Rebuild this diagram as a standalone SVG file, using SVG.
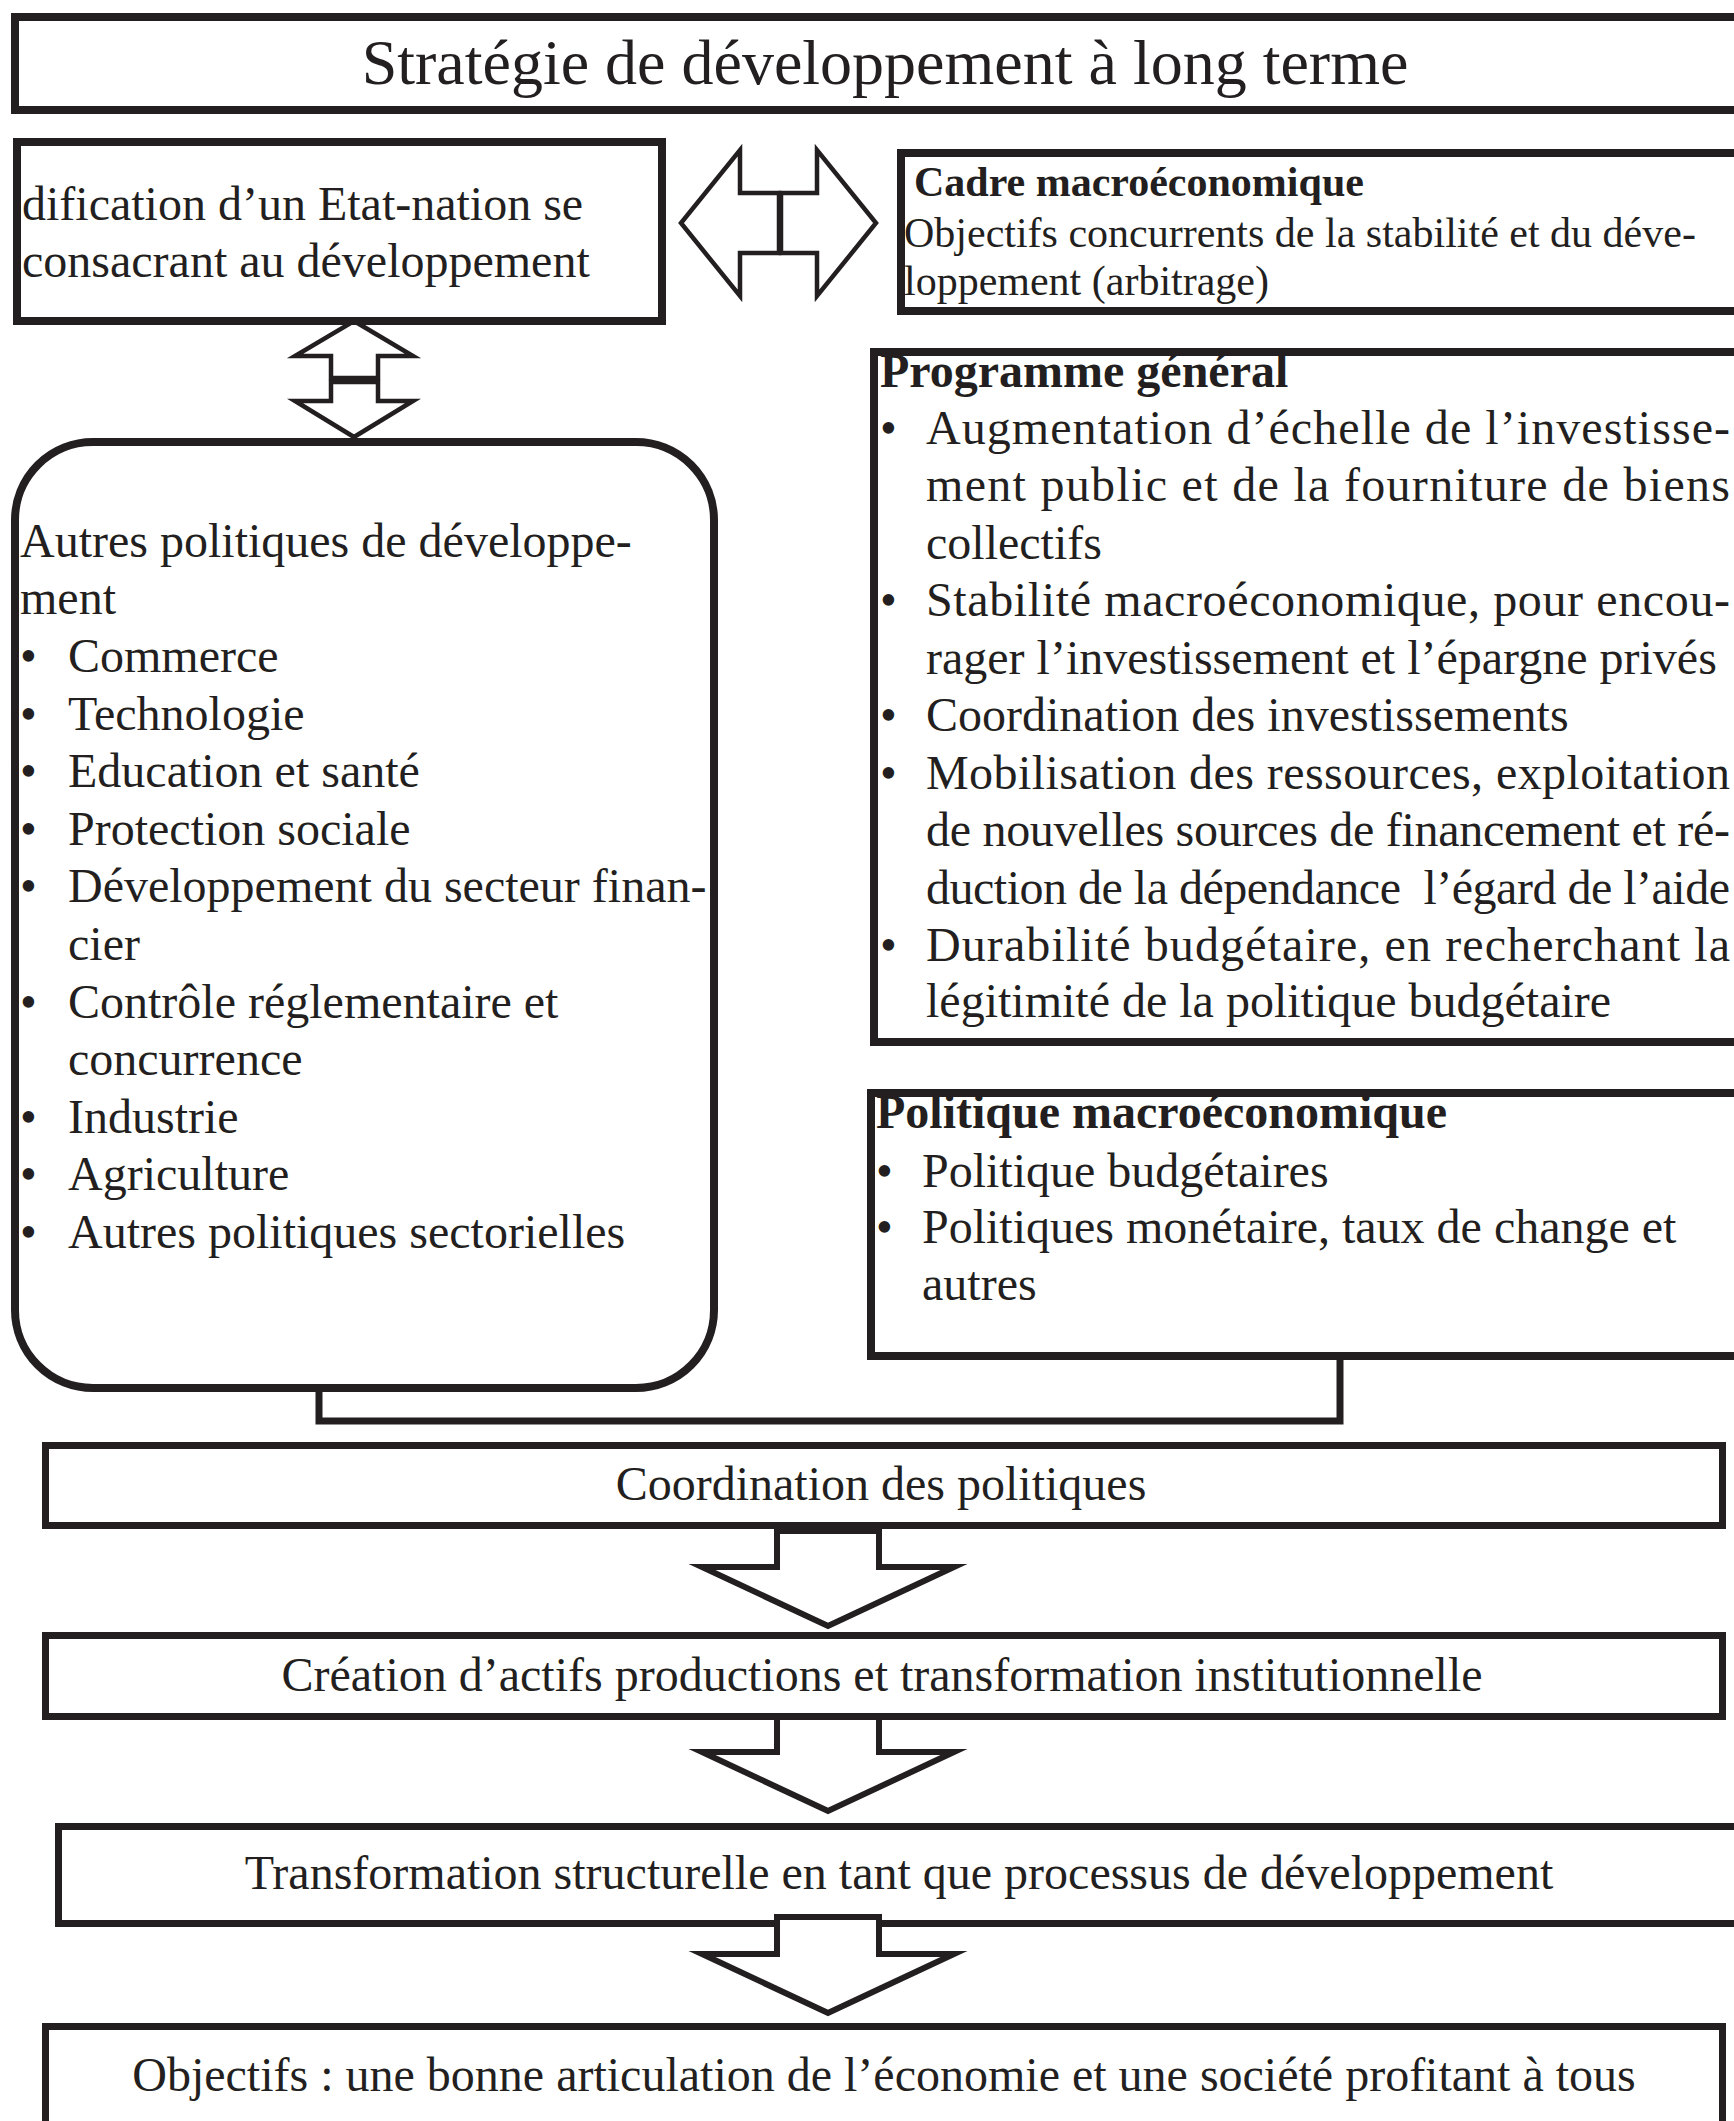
<svg xmlns="http://www.w3.org/2000/svg" width="1734" height="2121" viewBox="0 0 1734 2121">
<style>
  .box { fill: #ffffff; stroke: #231f20; stroke-width: 8; }
  .box7 { fill: #ffffff; stroke: #231f20; stroke-width: 7; }
  .arrow { fill: #ffffff; stroke: #231f20; stroke-width: 4.5; stroke-linejoin: miter; stroke-miterlimit: 10; }
  .darrow { fill: #ffffff; stroke: #231f20; stroke-width: 6; stroke-linejoin: miter; stroke-miterlimit: 10; }
  .link { fill: none; stroke: #231f20; stroke-width: 7; }
  text { font-family: "Liberation Serif", "Times New Roman", serif; fill: #231f20; }
  .t48 { font-size: 48px; }
  .t42 { font-size: 42px; }
  .b48 { font-size: 48px; font-weight: bold; }
  .b42 { font-size: 42px; font-weight: bold; }
  .title { font-size: 64px; }
  .mid { text-anchor: middle; }
</style>
<rect width="1734" height="2121" fill="#ffffff"/>

<g id="connectors">
  <path class="link" d="M319,1388 V1421 H1340 V1356"/>
  <polygon class="arrow" points="779,193 740,193 740,150 681,223 740,296 740,253 779,253"/>
  <polygon class="arrow" points="781,193 817,193 817,150 876,223 817,296 817,253 781,253"/>
  <polygon class="arrow" points="354,321 413,356 378,356 378,378 331,378 331,356 295,356"/>
  <polygon class="arrow" points="331,382 378,382 378,401 413,401 354,437 295,401 331,401"/>
</g>

<g id="node-strategie">
  <rect class="box" x="15" y="17" width="1740" height="93"/>
  <text class="title mid" x="885" y="84">Stratégie de développement à long terme</text>
</g>

<g id="node-etat-nation">
  <rect class="box" x="17" y="142" width="645" height="179"/>
  <text class="t48" x="22" y="220">dification d’un Etat-nation se</text>
  <text class="t48" x="22" y="277">consacrant au développement</text>
</g>

<g id="node-cadre">
  <rect class="box" x="901" y="153" width="850" height="158"/>
  <text class="b42" x="914" y="196">Cadre macroéconomique</text>
  <text class="t42" x="904" y="247">Objectifs concurrents de la stabilité et du déve-</text>
  <text class="t42" x="904" y="295">loppement (arbitrage)</text>
</g>

<g id="node-programme">
  <rect class="box" x="874" y="352" width="880" height="690"/>
  <text class="b48" x="880" y="387">Programme général</text>
  <text class="t48" x="880" y="444">•</text>
  <text class="t48" x="926" y="444" textLength="804" lengthAdjust="spacing">Augmentation d’échelle de l’investisse-</text>
  <text class="t48" x="926" y="501" textLength="804" lengthAdjust="spacing">ment public et de la fourniture de biens</text>
  <text class="t48" x="926" y="559">collectifs</text>
  <text class="t48" x="880" y="616">•</text>
  <text class="t48" x="926" y="616" textLength="804" lengthAdjust="spacing">Stabilité macroéconomique, pour encou-</text>
  <text class="t48" x="926" y="674">rager l’investissement et l’épargne privés</text>
  <text class="t48" x="880" y="731">•</text>
  <text class="t48" x="926" y="731">Coordination des investissements</text>
  <text class="t48" x="880" y="789">•</text>
  <text class="t48" x="926" y="789" textLength="804" lengthAdjust="spacing">Mobilisation des ressources, exploitation</text>
  <text class="t48" x="926" y="846" textLength="804" lengthAdjust="spacing">de nouvelles sources de financement et ré-</text>
  <text class="t48" x="926" y="904" textLength="804" lengthAdjust="spacing" style="white-space:pre">duction de la dépendance  l’égard de l’aide</text>
  <text class="t48" x="880" y="961">•</text>
  <text class="t48" x="926" y="961" textLength="804" lengthAdjust="spacing">Durabilité budgétaire, en recherchant la</text>
  <text class="t48" x="926" y="1017">légitimité de la politique budgétaire</text>
</g>

<g id="node-politique-macro">
  <rect class="box" x="871" y="1093" width="880" height="263"/>
  <text class="b48" x="876" y="1128">Politique macroéconomique</text>
  <text class="t48" x="876" y="1187">•</text>
  <text class="t48" x="922" y="1187">Politique budgétaires</text>
  <text class="t48" x="876" y="1243">•</text>
  <text class="t48" x="922" y="1243">Politiques monétaire, taux de change et</text>
  <text class="t48" x="922" y="1300">autres</text>
</g>

<g id="node-autres-politiques">
  <rect class="box" x="15" y="442" width="699" height="946" rx="78" ry="78"/>
  <text class="t48" x="20" y="557">Autres politiques de développe-</text>
  <text class="t48" x="20" y="614">ment</text>
  <text class="t48" x="20" y="672">•</text>
  <text class="t48" x="68" y="672">Commerce</text>
  <text class="t48" x="20" y="730">•</text>
  <text class="t48" x="68" y="730">Technologie</text>
  <text class="t48" x="20" y="787">•</text>
  <text class="t48" x="68" y="787">Education et santé</text>
  <text class="t48" x="20" y="845">•</text>
  <text class="t48" x="68" y="845">Protection sociale</text>
  <text class="t48" x="20" y="902">•</text>
  <text class="t48" x="68" y="902">Développement du secteur finan-</text>
  <text class="t48" x="68" y="960">cier</text>
  <text class="t48" x="20" y="1018">•</text>
  <text class="t48" x="68" y="1018">Contrôle réglementaire et</text>
  <text class="t48" x="68" y="1075">concurrence</text>
  <text class="t48" x="20" y="1133">•</text>
  <text class="t48" x="68" y="1133">Industrie</text>
  <text class="t48" x="20" y="1190">•</text>
  <text class="t48" x="68" y="1190">Agriculture</text>
  <text class="t48" x="20" y="1248">•</text>
  <text class="t48" x="68" y="1248">Autres politiques sectorielles</text>
</g>

<g id="node-coordination">
  <rect class="box7" x="45.5" y="1445.5" width="1677" height="80"/>
  <text class="t48 mid" x="881" y="1500">Coordination des politiques</text>
</g>

<g id="node-creation">
  <rect class="box7" x="45.5" y="1635.5" width="1677" height="81"/>
  <text class="t48 mid" x="882" y="1691">Création d’actifs productions et transformation institutionnelle</text>
</g>

<g id="node-transformation">
  <rect class="box7" x="58.5" y="1826.5" width="1700" height="97"/>
  <text class="t48 mid" x="899" y="1889">Transformation structurelle en tant que processus de développement</text>
</g>

<g id="node-objectifs">
  <rect class="box7" x="45.5" y="2026.5" width="1677" height="140"/>
  <text class="t48 mid" x="884" y="2091">Objectifs : une bonne articulation de l’économie et une société profitant à tous</text>
</g>

<g id="connectors-down">
  <polygon class="darrow" points="777,1531 879,1531 879,1567 954,1567 828,1626 702,1567 777,1567"/>
  <polygon class="darrow" points="777,1717 879,1717 879,1752 954,1752 828,1811 702,1752 777,1752"/>
  <polygon class="darrow" points="777,1917 879,1917 879,1954 954,1954 828,2013 702,1954 777,1954"/>
</g>
</svg>
